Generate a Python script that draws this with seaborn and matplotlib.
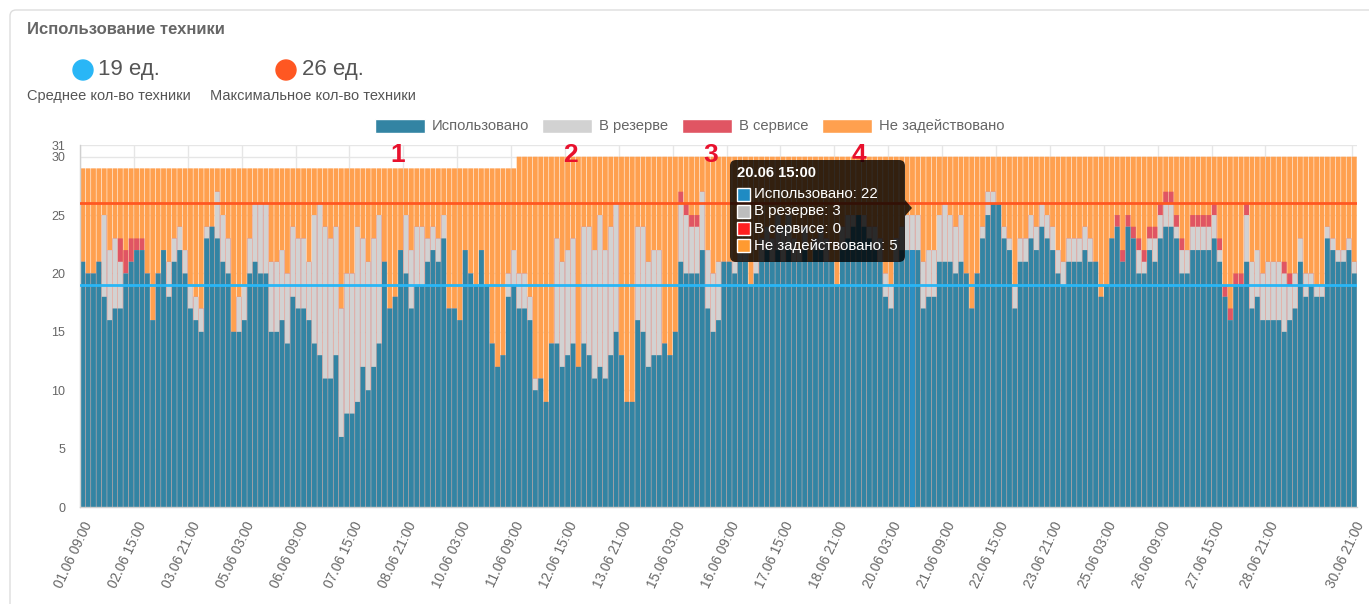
import numpy as np
import pandas as pd
import matplotlib
matplotlib.use("Agg")
import matplotlib.pyplot as plt
import seaborn as sns
from matplotlib.patches import FancyBboxPatch, Rectangle, Circle, Polygon
from matplotlib.transforms import IdentityTransform

# ---------------- data ----------------
used = [21,20,20,21,18,16,17,17,20,21, 22,22,20,16,20,22,18,21,22,20,
        17,16,15,23,24,23,21,20,15,15, 16,20,21,20,20,15,15,16,14,18,
        17,17,16,14,13,11,11,13,6,8, 8,9,12,10,12,14,21,17,18,22,
        20,17,19,19,21,22,21,23,17,17, 16,22,20,19,22,19,14,12,13,18,
        19,17,17,16,10,11,9,14,14,12, 13,14,12,14,13,11,12,11,13,15,
        13,9,9,16,15,12,13,13,14,13, 15,21,20,20,20,22,17,15,16,21,
        21,20,21,21,19,20,21,22,21,22, 21,22,21,21,22,21,22,22,21,21,
        19,22,23,24,25,24,23,22,21,18, 17,21,22,22,22,22,17,18,18,21,
        21,21,20,21,20,17,20,23,25,26, 26,23,22,17,21,21,23,22,24,23,
        22,20,19,21,21,21,22,21,21,18, 19,23,24,21,24,23,20,20,22,21,
        23,24,24,23,20,20,22,22,22,22, 23,21,18,16,19,19,21,17,18,16,
        16,16,16,15,16,17,21,18,19,18, 18,23,22,21,21,22,20]
reserve = [0,0,0,0,7,6,6,4,0,0, 0,0,0,0,0,0,3,2,2,2,
           2,2,2,1,0,4,4,3,0,3, 3,3,5,6,6,6,6,6,6,6,
           6,6,5,11,13,13,12,11,11,12, 12,15,11,11,11,11,0,0,0,0,
           5,5,5,5,2,2,2,2,0,0, 0,0,0,0,0,0,0,0,0,2,
           3,3,3,2,1,0,0,0,9,9, 9,9,0,10,11,11,13,11,11,11,
           0,0,0,8,9,9,9,9,0,0, 0,5,5,4,4,5,5,5,5,0,
           0,1,2,1,0,1,2,2,2,3, 3,3,2,1,2,0,1,2,2,0,
           0,2,2,1,0,1,1,2,2,2, 2,2,2,3,3,3,4,4,4,4,
           5,4,4,4,0,0,0,1,2,1, 0,1,1,2,2,2,2,2,2,2,
           2,2,2,2,2,2,2,2,0,0, 0,0,0,0,0,0,2,1,1,2,
           2,2,2,1,2,2,2,2,2,2, 2,1,0,0,0,0,4,4,4,4,
           5,5,5,5,3,3,2,2,1,1, 1,1,1,1,1,1,1]
service = [0,0,0,0,0,0,0,2,2,2, 1,1,0,0,0,0,0,0,0,0,
           0,0,0,0,0,0,0,0,0,0, 0,0,0,0,0,0,0,0,0,0,
           0,0,0,0,0,0,0,0,0,0, 0,0,0,0,0,0,0,0,0,0,
           0,0,0,0,0,0,0,0,0,0, 0,0,0,0,0,0,0,0,0,0,
           0,0,0,0,0,0,0,0,0,0, 0,0,0,0,0,0,0,0,0,0,
           0,0,0,0,0,0,0,0,0,0, 0,1,1,1,1,0,0,0,0,0,
           0,0,0,0,0,0,0,0,0,0, 0,0,0,0,0,0,0,0,0,0,
           0,0,0,0,0,0,0,0,0,0, 0,0,0,0,0,0,0,0,0,0,
           0,0,0,0,0,0,0,0,0,0, 0,0,0,0,0,0,0,0,0,0,
           0,0,0,0,0,0,0,0,0,0, 0,0,1,1,1,1,1,1,1,1,
           1,1,1,1,1,0,1,1,1,1, 1,1,1,1,1,1,1,0,0,0,
           0,0,0,1,1,0,0,0,0,0, 0,0,0,0,0,0,0]
capacity = [29] * 81 + [30] * 156
avg_count = 19
max_count = 26
start_time = "2024-06-01 09:00"
tick_idx = [0, 10, 20, 30, 40, 50, 60, 70, 80, 90, 100, 110, 120, 130, 140,
            150, 160, 170, 180, 190, 200, 210, 220, 236]
hover_idx = 154
series_names = ["Использовано", "В резерве", "В сервисе", "Не задействовано"]
markers = [("1", 58.5), ("2", 90.5), ("3", 116.5), ("4", 144.0)]

# ---------------- derived table ----------------
n = len(used)
times = pd.date_range(start_time, periods=n, freq="3h")
df = pd.DataFrame({"idx": np.arange(n), "used": used, "reserve": reserve,
                   "service": service, "capacity": capacity})
df["unused"] = df["capacity"] - df["used"] - df["reserve"] - df["service"]
df["top_reserve"] = df["used"] + df["reserve"]
df["top_service"] = df["top_reserve"] + df["service"]

C_USED, C_RES, C_SRV, C_FREE = "#3384a3", "#d2d2d2", "#e05563", "#ffa04f"
TXT = "#666666"

W, H = 1369, 604
sns.set_theme(style="white")
plt.rcParams["font.family"] = ["Liberation Sans", "DejaVu Sans"]

fig = plt.figure(figsize=(W / 100, H / 100), dpi=100)
fig.patch.set_facecolor("white")
ax = fig.add_axes([80 / W, 1 - 507 / H, (1357 - 80) / W, (507 - 145) / H])

BW = 0.9
for col, c in [("capacity", C_FREE), ("top_service", C_SRV),
               ("top_reserve", C_RES), ("used", C_USED)]:
    sns.barplot(data=df, x="idx", y=col, color=c, width=BW, saturation=1,
                errorbar=None, ax=ax, zorder=2)
# hovered bar highlight
ax.bar([hover_idx], [used[hover_idx]], width=BW, color="#2b8fc4", zorder=3)
for p in ax.patches:
    p.set_snap(False)
    p.set_linewidth(0)

ax.axhline(avg_count, color="#29b6f6", lw=2, zorder=4)
ax.axhline(max_count, color="#ff5722", lw=2, zorder=4)

ax.set_xlim(-0.5, n - 0.5)
ax.set_ylim(0, 31)
ax.set_xlabel("")
ax.set_ylabel("")

# grids
yt = [0, 5, 10, 15, 20, 25, 30, 31]
ax.set_yticks(yt)
ax.set_yticklabels([str(v) for v in yt])
for v in yt:
    ax.axhline(v, color="#e6e6e6", lw=1, zorder=0)
for i in tick_idx:
    ax.axvline(i - 0.5, color="#e6e6e6", lw=1, zorder=0)
ax.set_xticks(tick_idx)
ax.set_xticklabels([times[i].strftime("%d.%m %H:%M") for i in tick_idx],
                   rotation=65, ha="right", va="top", rotation_mode="anchor")
ax.tick_params(axis="both", colors="#e0e0e0", labelcolor=TXT, length=7,
               width=1, labelsize=9)
ax.tick_params(axis="x", pad=2, labelsize=9.8)
for s in ["top", "right"]:
    ax.spines[s].set_visible(False)
for s in ["left", "bottom"]:
    ax.spines[s].set_color("#d0d0d0")
    ax.spines[s].set_linewidth(1)
ax.set_axisbelow(True)

# red markers
for lab, xi in markers:
    ax.text(xi, 30.15, lab, color="#e8112d", fontsize=19, fontweight="bold",
            ha="center", va="center", zorder=6, clip_on=False)

T = IdentityTransform()

def P(x, y):
    return (x, H - y)

# card border
fig.add_artist(FancyBboxPatch(P(10, 640), 1400, 630,
                              boxstyle="round,pad=0,rounding_size=6",
                              fc="none", ec="#dddddd", lw=1, transform=T))

# header
fig.text(27 / W, 1 - 30 / H, "Использование техники", fontsize=12,
         fontweight="bold", color=TXT, va="center", ha="left")
fig.add_artist(Circle(P(83, 70), 10, color="#29b6f6", transform=T))
fig.text(98 / W, 1 - 70 / H, f"{avg_count} ед.", fontsize=16, color="#555555",
         va="center", ha="left")
fig.text(27 / W, 1 - 96 / H, "Среднее кол-во техники", fontsize=10.5,
         color="#555555", va="center", ha="left")
fig.add_artist(Circle(P(286, 70), 10, color="#ff5722", transform=T))
fig.text(302 / W, 1 - 70 / H, f"{max_count} ед.", fontsize=16, color="#555555",
         va="center", ha="left")
fig.text(210 / W, 1 - 96 / H, "Максимальное кол-во техники", fontsize=10.5,
         color="#555555", va="center", ha="left")

# legend
leg_x = [375, 542, 682, 822]
for x0, name, c in zip(leg_x, series_names, [C_USED, C_RES, C_SRV, C_FREE]):
    fig.add_artist(Rectangle(P(x0, 133), 50, 14, fc=c, ec="white", lw=1,
                             transform=T))
    fig.text((x0 + 57) / W, 1 - 126 / H, name, fontsize=10.6, color=TXT,
             va="center", ha="left")

# tooltip
fig.add_artist(FancyBboxPatch(P(730, 262), 175, 102,
                              boxstyle="round,pad=0,rounding_size=6",
                              fc=(0, 0, 0, 0.8), ec="none", transform=T,
                              zorder=10))
fig.add_artist(Polygon([P(905, 200), P(912, 208), P(905, 216)], closed=True,
                       fc=(0, 0, 0, 0.8), ec="none", transform=T, zorder=10))
hi = hover_idx
fig.text(737 / W, 1 - 173 / H, times[hi].strftime("%d.%m %H:%M"),
         fontsize=10.7, fontweight="bold", color="white", va="center",
         ha="left", zorder=11)
tip_vals = [used[hi], reserve[hi], service[hi],
            capacity[hi] - used[hi] - reserve[hi] - service[hi]]
tip_cols = ["#1f8bc3", "#bdbdbd", "#ff2020", "#ff9a30"]
for k, (name, v, c) in enumerate(zip(series_names, tip_vals, tip_cols)):
    yy = 194 + k * 17.3
    fig.add_artist(Rectangle(P(737, yy + 6.5), 13, 13, fc=c, ec="white",
                             lw=1, transform=T, zorder=11))
    fig.text(754 / W, 1 - yy / H, f"{name}: {v}", fontsize=10.8,
             color="white", va="center", ha="left", zorder=11)

fig.savefig("out.png", dpi=100, facecolor="white")
